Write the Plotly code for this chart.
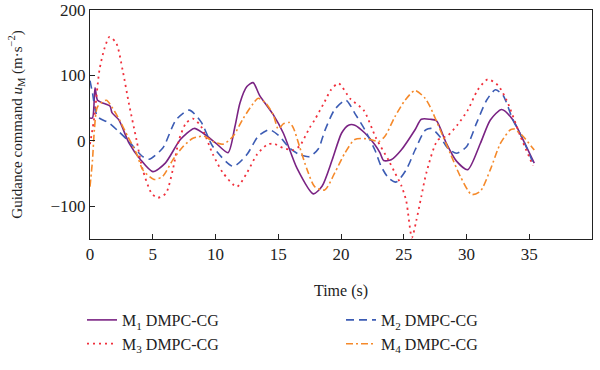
import plotly.graph_objects as go

# ---- data ----
t1 = [0, 0.2, 0.4, 0.6, 1.0, 1.6, 1.75, 2.3, 3.1, 4.0, 5.0, 6.0, 7.2, 8.3, 9.0, 10.0, 11.0, 11.55, 11.95,
      12.5, 13.0, 13.5, 14.6, 15.4, 16.5, 17.8, 18.5, 19.3, 20.05, 20.6, 21.1, 21.9, 22.7, 23.1, 23.4, 24.0,
      24.8, 25.9, 26.4, 27.1, 27.6, 28.4, 29.2, 30.1, 31.1, 31.9, 32.8, 33.7, 34.5, 35.4]
y1 = [35, 35, 81, 62, 58, 53, 43, 32, -3, -28, -47, -34, 2, 19, 12, -3, -18, 22, 58,
      83, 89, 70, 40, 12, -42, -81, -69, -29, 12, 24, 24, 12, -6, -18, -30, -29,
      -14, 17, 33, 33, 31, -4, -31, -44, -4, 32, 48, 32, 2, -34]

t2 = [0, 0.2, 0.6, 1.55, 2.3, 3.1, 4.2, 4.7, 5.8, 6.85, 7.9, 8.85, 9.8, 11.4, 12.5, 13.4, 14.3, 15.1, 15.9,
      16.7, 17.5, 18.2, 18.7, 19.5, 20.4, 21.1, 21.9, 22.7, 23.2, 23.8, 24.4, 25.2, 25.9, 26.7, 27.2, 27.9,
      28.5, 29.2, 30.0, 30.8, 31.6, 32.3, 32.9, 33.7, 34.5, 35.4]
y2 = [92, 73, 37, 27, 14, -1, -24, -28, -11, 32, 47, 29, -9, -39, -21, 7, 17, 7, -11,
      -21, -24, -12, 15, 48, 62, 42, 17, -14, -39, -57, -63, -44, -14, 16, 19, 6,
      -11, -19, -9, 27, 62, 78, 70, 32, 2, -38]

t3 = [0, 0.35, 0.75, 1.15, 1.55, 2.1, 2.6, 3.1, 3.7, 4.2, 4.9, 5.4, 6.05, 6.6, 7.1, 7.65, 8.2, 8.85, 9.8,
      10.6, 11.7, 12.5, 13.3, 14.1, 14.6, 15.4, 16.2, 16.7, 17.5, 17.9, 18.7, 19.2, 19.8, 20.75, 21.8, 22.8,
      23.8, 24.3, 24.8, 25.2, 25.65, 26.0, 26.4, 26.8, 27.7, 28.5, 29.3, 30.1, 30.9, 31.7, 32.5, 33.2, 34.3, 35.3]
y3 = [-5, 37, 108, 141, 159, 149, 108, 57, 2, -44, -80, -87, -80, -44, 2, 27, 34, 22, -21,
      -49, -70, -49, -21, -6, -4, -11, -14, -8, 20, 32, 60, 78, 88, 64, 47, 4,
      -30, -49, -68, -92, -148, -122, -85, -49, 1, 8, 25, 47, 78, 94, 85, 62, 7, -38]

t4 = [0, 0.2, 0.35, 0.6, 1.3, 1.8, 2.35, 3.0, 3.7, 4.2, 5.1, 5.8, 6.6, 7.4, 8.2, 9.1, 9.8, 10.6, 11.4, 12.2,
      13.0, 13.4, 14.0, 14.6, 15.0, 15.4, 15.9, 16.2, 16.7, 17.3, 17.9, 18.7, 19.5, 20.3, 21.1, 22.2, 23.0,
      23.5, 24.3, 25.1, 25.9, 26.7, 27.1, 27.9, 28.7, 29.5, 30.4, 31.1, 31.9, 32.7, 33.5, 33.8, 34.5, 35.4]
y4 = [-70, -29, 17, 52, 62, 50, 32, 7, -19, -44, -59, -54, -29, -9, 4, 7, -1, -5, 7, 34,
      57, 65, 58, 40, 18, 26, 28, 20, -9, -44, -70, -75, -49, -19, 2, 3, -1,
      7, 37, 62, 77, 65, 52, 17, -19, -54, -82, -77, -44, -4, 17, 18, 7, -14]

names = ["M<sub>1</sub> DMPC-CG", "M<sub>2</sub> DMPC-CG", "M<sub>3</sub> DMPC-CG", "M<sub>4</sub> DMPC-CG"]
xticks = [0, 5, 10, 15, 20, 25, 30, 35, 40]
yticks = [-100, 0, 100, 200]

series = [
    (t1, y1, "#7a2383", "solid", 1.6),
    (t2, y2, "#3c5cb4", "8px,5px", 1.6),
    (t3, y3, "#f0303c", "2px,4px", 1.8),
    (t4, y4, "#f5892a", "7px,3px,2px,3px", 1.6),
]

fig = go.Figure()
for (t, y, c, d, w), n in zip(series, names):
    fig.add_trace(go.Scatter(x=t, y=y, mode="lines", name=n,
                             line=dict(color=c, dash=d, width=w, shape="spline", smoothing=0.7)))

font = "Liberation Serif, Times New Roman, serif"
fig.update_layout(
    width=600, height=370,
    margin=dict(l=90, r=8, t=10, b=131),
    paper_bgcolor="white", plot_bgcolor="white",
    font=dict(family=font, size=17, color="#222"),
    legend=dict(orientation="h", x=-0.006, xanchor="left",
                y=-(361 - 239) / 229, yanchor="bottom",
                entrywidth=214, entrywidthmode="pixels", font=dict(size=16),
                tracegroupgap=0, itemwidth=30),
    showlegend=True,
)
fig.update_xaxes(range=[0, 40], tickvals=xticks, ticks="inside", ticklen=5, tickcolor="#222",
                 showline=True, linecolor="#222", linewidth=1, mirror=True, showgrid=False,
                 zeroline=False, automargin=False,
                 title=dict(text="Time (s)", standoff=21, font=dict(size=16)))
fig.update_yaxes(range=[-150, 200], tickvals=yticks, ticks="inside", ticklen=5, tickcolor="#222",
                 showline=True, linecolor="#222", linewidth=1, mirror=True, showgrid=False,
                 zeroline=False, automargin=False,
                 title=dict(text="Guidance command <i>u</i><sub>M</sub> (m·s<sup>−2</sup>)",
                            standoff=24, font=dict(size=15)))

fig.write_html("out.html", config={"displayModeBar": False},
               post_script="document.body.style.margin='0';")
